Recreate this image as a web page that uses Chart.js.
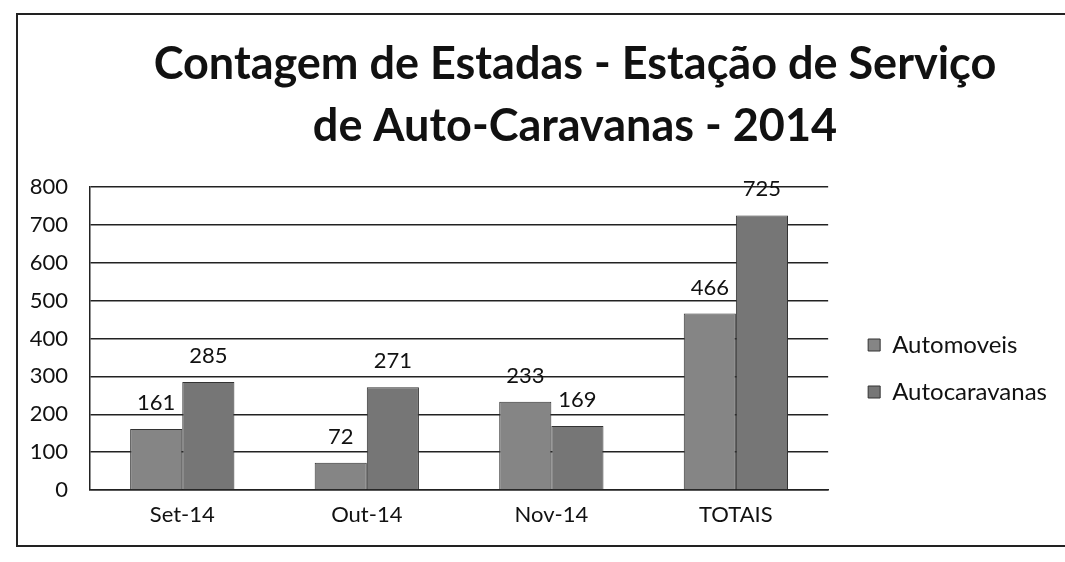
<!DOCTYPE html>
<html lang="pt">
<head>
    <meta charset="UTF-8" />
    <title>Contagem de Estadas - 2014</title>
    <script src="https://cdn.jsdelivr.net/npm/chart.js@4.4.1/dist/chart.umd.min.js"></script>
    <style>
        html, body {
            margin: 0;
            padding: 0;
            background: #fff;
            overflow: hidden;
        }
        #wrap {
            position: relative;
            width: 1065px;
            height: 562px;
        }
        /* chart frame: left, top and bottom edges are visible, right side is cut off */
        #frame {
            position: absolute;
            left: 16px;
            top: 13px;
            width: 1100px;
            height: 530px;
            border: 2px solid #222;
            border-right: none;
            pointer-events: none;
        }
        canvas {
            position: absolute;
            left: 0;
            top: 0;
        }
    </style>
</head>
<body>
    <div id="wrap">
        <canvas id="chart" width="1065" height="562"></canvas>
        <div id="frame"></div>
    </div>

    <script>
        // === Data ===
        const TITLE_LINES = [
            "Contagem de Estadas - Estação de Serviço",
            "de Auto-Caravanas - 2014"
        ];
        const CATEGORIES = ["Set-14", "Out-14", "Nov-14", "TOTAIS"];
        const AUTOMOVEIS = [161, 72, 233, 466];
        const AUTOCARAVANAS = [285, 271, 169, 725];
        const Y_MIN = 0;
        const Y_MAX = 800;
        const Y_STEP = 100;

        const FONT = "Lato, 'Open Sans', sans-serif";
        const INK = "#111";

        // title drawn centred over the whole (wider) chart object
        const titleLines = {
            id: "titleLines",
            afterDraw(chart) {
                const ctx = chart.ctx;
                ctx.save();
                ctx.font = "bold 45px " + FONT;
                ctx.fillStyle = INK;
                ctx.textAlign = "center";
                ctx.textBaseline = "alphabetic";
                TITLE_LINES.forEach((line, i) => {
                    ctx.fillText(line, 575, 79 + i * 62);
                });
                ctx.restore();
            }
        };

        // value labels above each bar
        const valueLabels = {
            id: "valueLabels",
            afterDatasetsDraw(chart) {
                const ctx = chart.ctx;
                ctx.save();
                ctx.font = "22px " + FONT;
                ctx.fillStyle = INK;
                ctx.textAlign = "center";
                ctx.textBaseline = "alphabetic";
                chart.data.datasets.forEach((ds, i) => {
                    chart.getDatasetMeta(i).data.forEach((bar, j) => {
                        ctx.fillText(String(ds.data[j]), bar.x, bar.y - 19);
                    });
                });
                ctx.restore();
            }
        };

        new Chart(document.getElementById("chart"), {
            type: "bar",
            data: {
                labels: CATEGORIES,
                datasets: [
                    {
                        label: "Automoveis",
                        data: AUTOMOVEIS,
                        backgroundColor: "#858585",
                        borderColor: "#333",
                        borderWidth: 1
                    },
                    {
                        label: "Autocaravanas",
                        data: AUTOCARAVANAS,
                        backgroundColor: "#767676",
                        borderColor: "#333",
                        borderWidth: 1
                    }
                ]
            },
            options: {
                responsive: false,
                animation: false,
                layout: {
                    padding: { top: 187, left: 16, right: 8, bottom: 12 }
                },
                datasets: {
                    bar: { categoryPercentage: 0.565, barPercentage: 1 }
                },
                scales: {
                    x: {
                        grid: { display: false, drawTicks: false },
                        border: { display: true, color: "#222", width: 1.5 },
                        ticks: { color: INK, font: { family: FONT, size: 22 }, padding: 12 },
                        afterFit: (s) => { s.height = 60; }
                    },
                    y: {
                        min: Y_MIN,
                        max: Y_MAX,
                        ticks: {
                            stepSize: Y_STEP,
                            color: INK,
                            padding: 22,
                            font: { family: FONT, size: 22 }
                        },
                        grid: { color: "#222", lineWidth: 1.5, drawTicks: false },
                        border: { display: true, color: "#222", width: 1.5 },
                        afterFit: (s) => { s.width = 74; }
                    },
                    // empty spacer between plot area and legend
                    gap: {
                        type: "linear",
                        position: "right",
                        display: true,
                        grid: { display: false, drawTicks: false },
                        border: { display: false },
                        ticks: { display: false },
                        afterFit: (s) => { s.width = 17; }
                    }
                },
                plugins: {
                    title: { display: false },
                    tooltip: { enabled: false },
                    legend: {
                        position: "right",
                        maxWidth: 320,
                        labels: {
                            boxWidth: 12,
                            boxHeight: 12,
                            padding: 23,
                            color: INK,
                            font: { family: FONT, size: 24 }
                        }
                    }
                }
            },
            plugins: [titleLines, valueLabels]
        });
    </script>
</body>
</html>
